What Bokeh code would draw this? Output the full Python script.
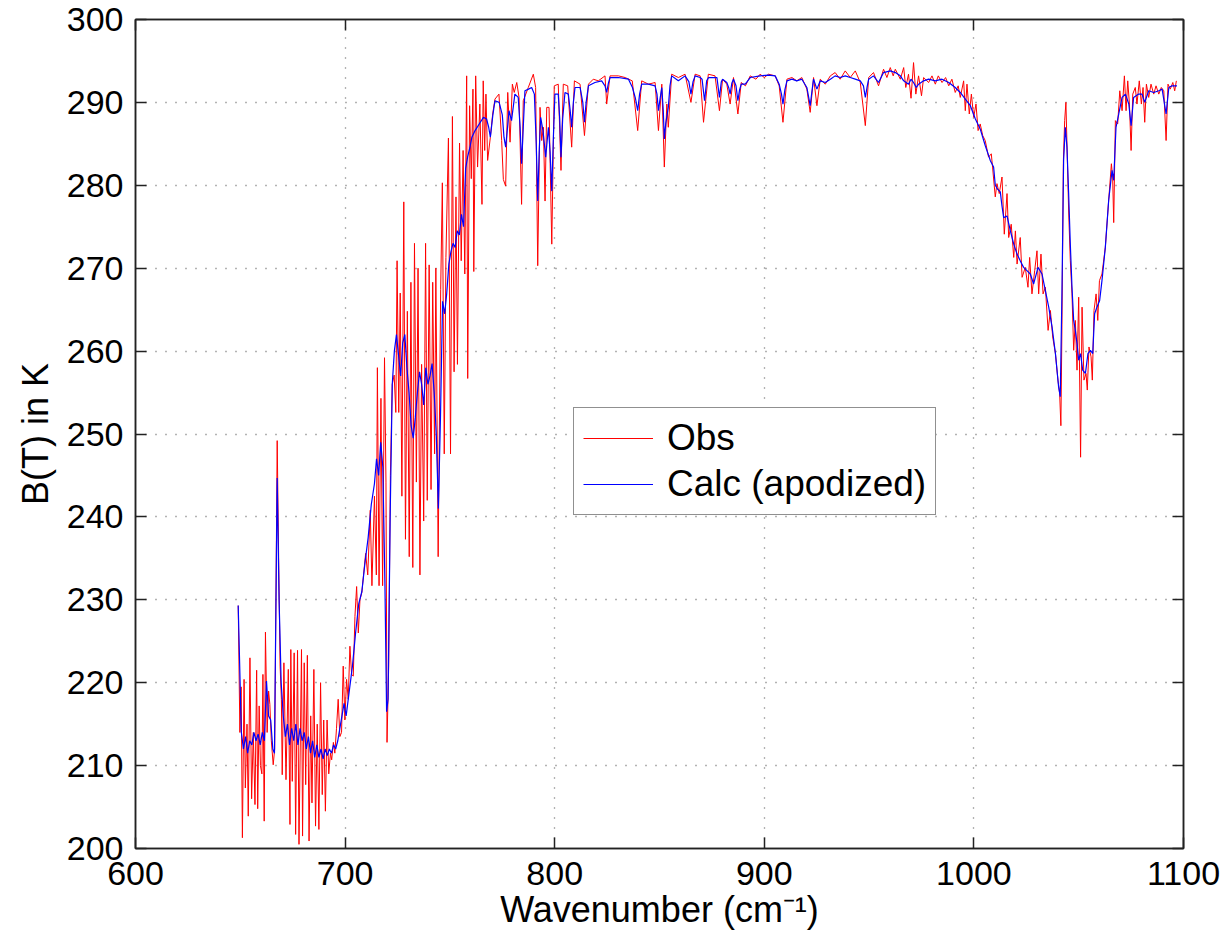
from bokeh.plotting import figure
from bokeh.models import Range1d, LinearAxis, FixedTicker, Legend, LegendItem
from bokeh.embed import file_html
from bokeh.resources import INLINE

# ---- Calc (apodized) ----
calc_x = [649.0, 650.5, 651.5, 652.5, 653.5, 654.5, 655.5, 656.5, 657.5, 658.5, 659.5, 660.5, 661.5,
          662.5, 663.5, 664.5, 665.5, 666.3, 667.6, 668.5, 669.5, 670.5, 671.5, 672.5, 673.5, 674.5,
          675.5, 676.5, 677.5, 678.5, 679.5, 680.5, 681.5, 682.5, 683.5, 684.5, 685.5, 686.5, 687.5,
          688.5, 689.5, 690.5, 691.5, 692.5, 693.5, 694.5, 695.5, 696.5, 697.5, 698.5, 699.5, 700.5,
          702.0, 703.5, 705.0, 706.5, 708.0, 709.5, 711.0, 712.5, 714.0, 715.0, 716.0, 717.0, 718.0,
          719.0, 719.8, 720.5, 721.5, 722.5, 723.5, 724.5, 725.5, 726.5, 727.5, 728.5, 729.5, 730.5,
          731.5, 732.5, 733.5, 734.5, 735.5, 736.5, 737.5, 738.5, 739.5, 740.5, 741.5, 742.5, 743.5,
          744.5, 745.5, 746.5, 747.5, 748.5, 749.5, 750.5, 751.5, 752.5, 753.5, 754.5, 755.5, 756.5,
          757.5, 758.5, 759.5, 760.5, 762.0, 764.0, 766.0, 767.5, 768.5, 769.3, 770.5, 771.5, 773.5,
          775.0, 775.8, 776.6, 777.5, 778.2, 779.4, 781.0, 782.6, 783.5, 784.2, 785.0, 785.8, 787.5,
          789.0, 790.3, 791.2, 791.9, 792.6, 793.3, 794.4, 795.7, 797.0, 797.8, 798.6, 799.4, 800.1,
          801.7, 802.4, 803.0, 803.8, 804.9, 806.5, 807.4, 808.1, 808.9, 809.7, 812.1, 813.4, 814.2,
          815.0, 816.1, 819.2, 822.4, 824.0, 824.8, 825.6, 826.4, 830.4, 835.2, 837.1, 838.5, 839.6,
          840.5, 841.5, 844.7, 847.9, 848.8, 849.5, 850.3, 851.1, 851.8, 852.3, 853.0, 854.2, 855.0,
          855.8, 859.0, 862.2, 864.0, 865.0, 866.0, 867.0, 869.4, 870.3, 871.5, 872.5, 873.4, 877.4,
          878.6, 879.5, 880.1, 882.1, 883.0, 883.7, 884.5, 885.3, 886.5, 887.4, 888.2, 889.0, 890.9,
          893.3, 898.0, 902.0, 905.2, 907.1, 908.2, 908.9, 909.8, 910.8, 913.2, 915.5, 917.9, 920.3,
          921.9, 922.8, 923.5, 925.1, 926.7, 929.1, 931.5, 933.8, 936.2, 938.6, 941.0, 943.4, 945.8,
          947.3, 948.2, 949.0, 949.8, 952.1, 954.5, 956.9, 960.1, 962.5, 964.9, 966.5, 968.8, 970.0,
          971.2, 972.5, 973.6, 976.0, 978.4, 981.6, 984.8, 988.0, 991.1, 993.5, 995.9, 998.3, 1000.7,
          1003.0, 1005.4, 1007.8, 1009.4, 1010.2, 1011.4, 1012.6, 1013.4, 1014.2, 1015.8, 1017.4,
          1019.0, 1020.6, 1022.1, 1023.7, 1025.3, 1026.9, 1028.5, 1030.6, 1032.5, 1034.1, 1035.7,
          1037.3, 1038.9, 1040.4, 1041.2, 1042.0, 1042.8, 1043.6, 1044.4, 1045.2, 1046.0, 1046.8,
          1047.6, 1048.4, 1049.2, 1050.0, 1050.9, 1051.9, 1053.2, 1054.4, 1055.6, 1056.7, 1057.6,
          1058.7, 1060.0, 1061.1, 1062.7, 1064.3, 1065.9, 1066.7, 1067.8, 1069.1, 1070.7, 1072.3,
          1073.9, 1075.0, 1076.2, 1078.6, 1080.2, 1081.5, 1083.4, 1085.8, 1088.2, 1089.8, 1091.7,
          1093.0, 1094.5, 1096.9]
calc_y = [229.3, 214.0, 212.0, 213.5, 211.5, 213.0, 212.5, 214.0, 213.0, 213.8, 212.5, 214.0, 213.0,
          220.2, 216.0, 215.5, 212.0, 211.5, 244.7, 230.0, 220.0, 216.0, 213.5, 215.0, 212.5, 214.5,
          213.0, 215.0, 212.5, 214.5, 213.0, 214.0, 212.0, 213.5, 211.5, 213.0, 211.0, 212.5, 211.0,
          212.0, 210.8, 212.0, 211.2, 212.0, 211.5, 212.5, 212.0, 213.0, 214.5, 216.0, 217.5, 216.0,
          219.0, 222.0, 226.0, 229.5, 231.0, 234.5, 237.5, 241.5, 244.0, 247.0, 245.0, 249.0, 246.0,
          232.0, 216.5, 218.0, 240.0, 256.0, 260.0, 262.0, 259.5, 257.0, 261.0, 262.0, 258.0, 255.0,
          251.0, 249.5, 252.0, 255.0, 257.5, 256.0, 253.5, 258.0, 256.0, 257.0, 258.5, 255.0, 250.0,
          241.0, 252.0, 266.0, 264.5, 267.0, 270.5, 272.0, 273.0, 272.5, 274.5, 274.0, 276.5, 275.0,
          282.0, 283.5, 284.5, 285.8, 286.6, 287.4, 288.2, 288.0, 287.0, 285.8, 288.5, 290.2, 290.0,
          288.5, 285.8, 284.6, 287.0, 289.0, 287.8, 291.0, 290.6, 287.0, 282.6, 287.0, 291.4, 291.6,
          291.8, 291.0, 285.0, 278.1, 284.0, 288.2, 286.6, 283.4, 287.0, 284.0, 279.3, 286.0, 291.0,
          291.0, 288.0, 283.4, 288.0, 291.2, 291.0, 289.0, 287.0, 290.0, 291.8, 291.8, 290.0, 287.6,
          290.0, 292.0, 292.4, 292.6, 292.0, 291.2, 292.3, 293.0, 293.0, 292.8, 291.8, 290.5, 289.0,
          291.0, 292.2, 292.2, 292.0, 291.0, 289.0, 290.5, 291.8, 289.0, 285.6, 287.5, 289.4, 292.0,
          293.2, 292.6, 293.2, 292.5, 291.0, 292.5, 293.2, 293.0, 292.8, 290.2, 292.6, 293.0, 293.0,
          290.6, 292.5, 292.8, 292.4, 291.8, 291.0, 292.3, 292.8, 292.0, 290.2, 291.5, 292.2, 292.2,
          293.0, 293.2, 293.3, 293.2, 292.2, 291.0, 289.8, 291.5, 292.6, 292.8, 292.6, 292.8, 291.8,
          289.6, 291.5, 292.8, 291.6, 292.6, 292.4, 292.8, 293.2, 293.0, 293.2, 293.0, 292.8, 292.6,
          292.0, 290.6, 291.8, 292.8, 293.2, 292.4, 293.6, 293.8, 293.6, 293.2, 292.6, 292.2, 292.8,
          292.4, 291.8, 292.2, 292.6, 292.8, 292.6, 292.8, 292.4, 291.8, 291.2, 290.4, 289.6, 288.0,
          286.8, 284.8, 283.0, 282.2, 280.0, 279.5, 279.2, 277.5, 276.1, 276.3, 274.5,
          272.9, 271.7, 270.9, 270.1, 269.7, 269.3, 268.1, 270.1, 269.3, 267.3, 265.3,
          262.9, 259.7, 255.7, 254.5, 266.9, 283.0, 287.0, 284.6, 279.0, 272.9, 267.7,
          263.7, 262.5, 260.9, 258.9, 259.7, 257.7, 257.3, 259.7, 260.1, 259.7, 264.5,
          265.3, 266.1, 268.5, 272.5, 278.2, 281.8, 280.6, 287.0, 288.6, 290.6, 291.0,
          289.8, 287.2, 290.6, 291.0, 291.0, 290.0, 291.4, 291.2, 291.4, 291.6, 288.6,
          291.8, 292.0, 292.0]

# ---- Obs ----
obs_x = [649.0, 649.8, 650.4, 651.0, 651.8, 652.4, 653.2, 653.8, 654.6, 655.4, 656.2, 657.0, 657.8,
         658.3, 659.0, 659.6, 660.3, 660.8, 661.4, 662.0, 662.8, 663.5, 664.1, 664.8, 665.7, 666.4,
         667.0, 667.6, 668.3, 669.0, 669.6, 670.0, 670.8, 671.8, 672.9, 673.7, 674.1, 674.8, 675.7,
         676.4, 677.3, 678.0, 679.2, 679.7, 680.5, 681.2, 682.0, 682.8, 683.6, 684.2, 685.1, 685.9,
         686.7, 687.5, 688.3, 689.1, 689.8, 690.6, 691.4, 692.2, 693.0, 693.6, 694.4, 695.1, 695.9,
         696.7, 697.5, 698.3, 699.1, 699.9, 700.7, 701.5, 702.3, 703.1, 703.9, 704.7, 705.5, 706.3,
         707.1, 708.0, 708.8, 709.8, 710.8, 712.0, 712.8, 714.0, 714.9, 715.4, 716.2, 717.1, 717.9,
         718.8, 719.5, 720.0, 720.8, 721.6, 722.5, 723.4, 724.2, 724.8, 725.6, 726.3, 727.1, 728.0,
         728.8, 729.7, 730.6, 731.4, 732.3, 733.1, 734.0, 734.8, 735.7, 736.5, 737.5, 738.4, 739.2,
         740.1, 741.0, 741.8, 742.7, 743.3, 744.4, 745.6, 746.4, 747.3, 748.1, 749.3, 750.3, 751.2,
         752.0, 752.9, 753.6, 754.6, 755.4, 756.3, 757.1, 758.0, 758.5, 759.4, 760.2, 761.0, 761.4,
         762.3, 763.2, 764.3, 765.3, 765.9, 766.6, 767.2, 768.0, 769.3, 770.4, 771.5, 773.4, 774.7,
         775.5, 776.6, 777.6, 778.7, 779.8, 780.7, 781.9, 783.0, 784.2, 785.0, 787.4, 789.8, 790.9,
         791.9, 793.0, 793.8, 794.6, 795.4, 796.2, 797.3, 798.6, 799.8, 801.7, 803.0, 804.1, 806.2,
         808.1, 809.4, 812.1, 814.2, 816.1, 818.4, 820.8, 824.0, 824.8, 826.4, 830.4, 833.6, 837.0,
         839.6, 841.5, 844.7, 847.9, 849.5, 851.1, 852.3, 853.5, 854.2, 855.8, 859.0, 862.2, 865.0,
         867.0, 869.4, 871.0, 873.3, 876.5, 878.6, 880.1, 882.1, 883.7, 885.3, 887.4, 889.0, 891.0,
         893.3, 896.0, 898.0, 900.0, 902.0, 905.2, 907.1, 908.9, 910.8, 913.2, 915.5, 917.9, 920.3,
         921.9, 923.5, 925.1, 926.7, 929.1, 931.5, 933.8, 936.2, 938.6, 941.0, 943.4, 945.8, 948.2,
         949.8, 952.1, 954.5, 956.9, 958.5, 960.1, 961.5, 962.5, 964.9, 966.5, 967.5, 968.8, 970.0,
         971.2, 972.3, 973.6, 975.0, 976.0, 978.4, 980.0, 981.6, 983.0, 984.8, 986.5, 988.0, 989.5,
         991.1, 992.5, 993.5, 995.1, 995.9, 996.7, 997.8, 998.8, 999.9, 1001.0, 1002.0, 1003.0,
         1004.2, 1005.4, 1007.0, 1008.3, 1008.9, 1010.2, 1011.0, 1012.1, 1013.4, 1014.5, 1015.8,
         1016.6, 1017.8, 1019.0, 1019.8, 1020.6, 1022.1, 1023.0, 1024.5, 1025.8, 1026.6, 1027.7,
         1029.0, 1030.1, 1030.9, 1032.0, 1033.0, 1034.1, 1035.4, 1036.5, 1037.6, 1038.9, 1040.1,
         1040.9, 1041.5, 1042.0, 1042.7, 1043.3, 1043.9, 1044.6, 1045.2, 1046.0, 1046.8, 1047.6,
         1048.4, 1049.2, 1050.0, 1050.9, 1051.6, 1052.5, 1053.5, 1054.1, 1054.9, 1055.9, 1056.5,
         1057.3, 1058.3, 1059.1, 1059.9, 1061.1, 1062.7, 1064.3, 1065.6, 1066.2, 1066.7, 1067.5,
         1068.6, 1069.6, 1070.7, 1071.8, 1072.6, 1073.4, 1074.2, 1075.0, 1075.8, 1077.0, 1077.8,
         1078.9, 1079.9, 1080.7, 1081.5, 1082.3, 1083.4, 1084.5, 1085.8, 1086.9, 1088.2, 1089.4,
         1090.6, 1091.7, 1092.6, 1093.7, 1094.9, 1095.8, 1096.6]
obs_y = [229.3, 214.0, 219.5, 201.3, 220.4, 207.3, 215.0, 203.9, 223.0, 206.0, 214.0, 205.3, 221.5,
         204.8, 217.2, 210.0, 209.0, 221.0, 203.3, 226.1, 214.0, 219.0, 217.4, 213.0, 210.1, 212.0,
         230.0, 249.2, 235.0, 222.0, 218.0, 208.9, 222.4, 208.3, 221.6, 202.9, 224.0, 208.1, 223.6,
         201.7, 223.9, 200.5, 224.0, 201.5, 222.4, 207.7, 223.3, 200.9, 216.0, 205.5, 221.6, 202.7,
         215.0, 202.3, 220.0, 206.5, 215.5, 204.5, 215.5, 209.0, 211.5, 210.7, 212.8, 211.5, 214.5,
         218.0, 213.5, 214.0, 222.0, 215.5, 220.4, 218.0, 224.4, 221.0, 220.8, 228.0, 231.6, 226.0,
         230.0, 230.9, 233.0, 235.6, 233.0, 240.8, 231.7, 242.5, 233.0, 258.0, 231.7, 254.3, 231.7,
         259.2, 244.2, 212.8, 222.0, 245.0, 256.0, 257.1, 252.6, 270.9, 252.6, 267.0, 242.5, 278.0,
         237.3, 264.8, 235.2, 268.3, 233.9, 273.0, 244.2, 270.0, 233.0, 258.4, 239.5, 273.0, 242.0,
         270.4, 243.3, 268.3, 247.6, 270.0, 235.2, 267.4, 280.3, 247.6, 271.3, 285.7, 247.6, 288.3,
         257.5, 278.6, 258.4, 285.1, 270.9, 284.2, 269.3, 293.2, 256.7, 289.6, 280.8, 291.6, 269.6,
         293.2, 282.2, 289.8, 277.7, 292.6, 284.2, 291.0, 283.0, 285.8, 288.6, 290.4, 291.0, 285.4,
         280.7, 279.9, 291.2, 285.2, 292.2, 291.2, 292.4, 290.6, 277.7, 290.2, 291.8, 293.4, 291.8,
         270.3, 289.4, 285.4, 287.0, 278.1, 289.4, 289.4, 272.9, 292.0, 292.2, 281.8, 292.2, 292.0,
         284.6, 292.6, 292.2, 286.0, 292.2, 292.8, 292.6, 293.2, 289.8, 293.2, 293.2, 293.0, 292.6,
         286.6, 292.6, 292.2, 292.4, 286.6, 292.2, 282.2, 289.8, 287.0, 293.4, 293.0, 293.4, 290.0,
         293.4, 293.2, 287.6, 293.4, 293.2, 289.0, 292.8, 292.2, 289.8, 293.0, 288.6, 292.4, 292.0,
         293.2, 292.8, 293.4, 293.0, 293.4, 293.2, 292.0, 287.6, 292.8, 293.0, 292.6, 293.0, 291.6,
         288.8, 293.0, 289.6, 292.8, 292.2, 293.2, 293.6, 292.8, 293.8, 293.0, 293.8, 292.4, 287.2,
         293.0, 293.6, 292.0, 294.0, 293.0, 294.2, 293.2, 294.0, 292.8, 294.2, 291.8, 293.4, 290.5,
         294.8, 291.0, 293.2, 290.8, 293.0, 292.4, 293.2, 292.2, 293.2, 292.4, 293.0, 292.0, 292.8,
         291.2, 292.0, 290.6, 292.6, 289.0, 292.2, 288.6, 291.0, 288.2, 289.8, 286.6, 287.4,
         286.0, 285.4, 283.4, 283.8, 282.2, 278.6, 280.2, 279.0, 281.0, 274.1, 279.0,
         273.7, 275.3, 271.3, 274.5, 270.5, 273.7, 268.9, 270.1, 267.7, 271.3, 266.9,
         269.7, 272.1, 266.9, 271.7, 266.9, 267.7, 262.5, 264.9, 261.7, 259.7, 256.5,
         254.9, 251.0, 262.9, 283.0, 287.8, 290.0, 283.0, 276.9, 270.9, 266.9, 260.1,
         263.7, 257.7, 266.5, 247.2, 265.3, 256.5, 257.3, 255.3, 260.5, 259.3, 256.5,
         264.9, 266.9, 263.7, 268.5, 269.3, 272.5, 278.2, 282.6, 281.0, 275.5, 287.8,
         287.4, 291.4, 289.0, 293.2, 289.0, 292.6, 289.8, 284.2, 291.0, 291.8, 289.8,
         292.6, 289.8, 291.8, 287.6, 292.2, 290.6, 292.2, 291.0, 292.0, 291.0, 291.8,
         291.4, 285.4, 292.2, 291.6, 292.4, 291.4, 292.6]

x_ticks = [600, 700, 800, 900, 1000, 1100]
y_ticks = [200, 210, 220, 230, 240, 250, 260, 270, 280, 290, 300]

FONT = "Liberation Sans"

p = figure(width=1228, height=947, output_backend="svg", toolbar_location=None,
           x_range=Range1d(600, 1100), y_range=Range1d(200, 300),
           min_border_left=135, min_border_right=45, min_border_top=19, min_border_bottom=99)
p.background_fill_color = "white"
p.border_fill_color = "white"
p.outline_line_color = "#222222"
p.outline_line_width = 1.5

r_obs = p.line(obs_x, obs_y, line_color="#ff0000", line_width=1)
r_calc = p.line(calc_x, calc_y, line_color="#0000ff", line_width=1.2)

for ax in (p.xaxis[0], p.yaxis[0]):
    ax.major_tick_in = 11
    ax.major_tick_out = 0
    ax.minor_tick_in = 0
    ax.minor_tick_out = 0
    ax.axis_line_color = "#222222"
    ax.axis_line_width = 1.5
    ax.major_tick_line_color = "#222222"
    ax.major_tick_line_width = 1.5
    ax.major_label_text_font = FONT
    ax.major_label_text_font_size = "34px"
    ax.major_label_text_color = "black"
    ax.axis_label_text_font = FONT
    ax.axis_label_text_font_size = "36px"
    ax.axis_label_text_font_style = "normal"
    ax.axis_label_text_color = "black"

p.xaxis[0].ticker = FixedTicker(ticks=x_ticks)
p.yaxis[0].ticker = FixedTicker(ticks=y_ticks)
p.xaxis[0].axis_label = "Wavenumber (cm\u207b\u00b9)"
p.yaxis[0].axis_label = "B(T) in K"
p.xaxis[0].major_label_standoff = 13
p.yaxis[0].major_label_standoff = 12
p.xaxis[0].axis_label_standoff = 1
p.yaxis[0].axis_label_standoff = 8

for loc, ticks in (("above", x_ticks), ("right", y_ticks)):
    ax = LinearAxis(ticker=FixedTicker(ticks=ticks), major_label_text_color=None,
                    major_tick_in=11, major_tick_out=0, minor_tick_in=0, minor_tick_out=0,
                    major_label_standoff=0, axis_line_color="#222222", axis_line_width=1.5,
                    major_tick_line_color="#222222", major_tick_line_width=1.5)
    p.add_layout(ax, loc)

p.xgrid.ticker = FixedTicker(ticks=x_ticks)
p.ygrid.ticker = FixedTicker(ticks=y_ticks)
for g in (p.xgrid[0], p.ygrid[0]):
    g.grid_line_color = "#666666"
    g.grid_line_dash = "1 9"
    g.grid_line_width = 1.3

legend = Legend(items=[LegendItem(label="Obs", renderers=[r_obs]),
                       LegendItem(label="Calc (apodized)", renderers=[r_calc])],
                location=(438, 333))
legend.label_text_font = FONT
legend.label_text_font_size = "37px"
legend.label_text_color = "black"
legend.glyph_width = 70
legend.glyph_height = 38
legend.label_height = 38
legend.spacing = 4
legend.padding = 9
legend.margin = 0
legend.label_standoff = 14
legend.border_line_color = "#222222"
legend.border_line_width = 1.5
legend.background_fill_alpha = 1
p.add_layout(legend, "center")

open("out.html", "w").write(file_html(p, INLINE))
